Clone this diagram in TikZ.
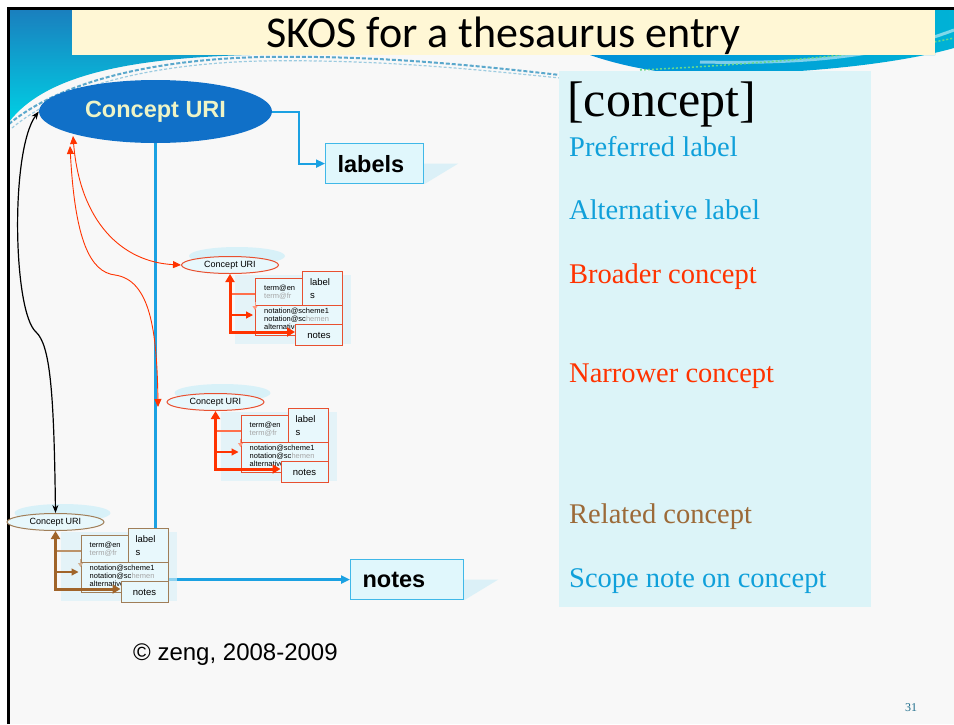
\documentclass[tikz,border=0pt]{standalone}
\usepackage{fontspec}
\setmainfont{Liberation Serif}
\setsansfont{Liberation Sans}
\newfontfamily\titlefont{Carlito}
\usetikzlibrary{arrows.meta,shapes.geometric}

\definecolor{slidebg}{HTML}{F8F8F8}
\definecolor{titlebg}{HTML}{FFF7D5}
\definecolor{swtop}{HTML}{1A7FBE}
\definecolor{swbottom}{HTML}{00D0E4}
\definecolor{swleft}{HTML}{0090D8}
\definecolor{swright}{HTML}{00B2D6}
\definecolor{sparkle}{HTML}{5AA8CC}
\definecolor{panelbg}{HTML}{DCF4F8}
\definecolor{panelblue}{HTML}{10A0DA}
\definecolor{panelred}{HTML}{FF3300}
\definecolor{panelbrown}{HTML}{9C6A38}
\definecolor{conceptblue}{HTML}{1070C8}
\definecolor{uriyellow}{HTML}{EEF4C6}
\definecolor{connblue}{HTML}{1BA1E2}
\definecolor{boxfill}{HTML}{E0F7FC}
\definecolor{boxdraw}{HTML}{40B8E8}
\definecolor{boxshadow}{HTML}{D4EFF7}
\definecolor{redline}{HTML}{FF3300}
\definecolor{redborder}{HTML}{E85030}
\definecolor{brownline}{HTML}{A0642A}
\definecolor{brownborder}{HTML}{A07E58}
\definecolor{clfill}{HTML}{E8F8FC}
\definecolor{clshadow}{HTML}{D8F1F8}
\definecolor{pagenum}{HTML}{1F6E8C}

\tikzset{
  paneltext/.style={anchor=base west, inner sep=0pt, font=\fontsize{28.5}{32}\selectfont},
  bluebox/.style={draw=boxdraw, fill=boxfill, line width=1.2pt, inner ysep=0pt,
    font=\sffamily\bfseries\fontsize{23.5}{28}\selectfont, anchor=north west},
  blueconn/.style={draw=connblue, -{Triangle[length=9pt,width=8pt]}},
  smallconcept/.style={ellipse, fill=clfill, line width=1pt, inner sep=0pt,
    minimum width=97, minimum height=17, font=\sffamily\fontsize{9}{10}\selectfont},
  clbox/.style={fill=clfill, line width=1pt, inner sep=0pt,
    font=\sffamily\fontsize{9.5}{13}\selectfont},
  clterm/.style={anchor=west, inner sep=0pt, font=\sffamily\fontsize{7.5}{8}\selectfont},
  relarrow/.style={line width=0.9pt, {Triangle[length=8pt,width=7pt]}-{Triangle[length=8pt,width=7pt]}},
  thickarrows/.style={line width=3pt, {Triangle[length=8pt,width=9pt]}-{Triangle[length=8pt,width=9pt]}},
}

% One small concept: ellipse, entry box with its term and notation lines,
% the labels and notes boxes, and the coloured arrows joining them.
% #1 name, #2 x, #3 y, #4 arrow colour, #5 border colour
\newcommand{\conceptcluster}[5]{%
\begin{scope}[shift={(#2,#3)}]
  \fill[clshadow] (7,-9) ellipse [x radius=48, y radius=9];
  \fill[clshadow, opacity=.6] (5,10) rectangle (121,79);
  \node[smallconcept, draw=#5] (#1) at (0,0) {Concept URI};
  \node[clbox, draw=#5, minimum width=87, minimum height=57, anchor=north west] (#1-entry) at (25,13) {};
  \draw[#5, line width=1pt] (25,40) -- (112,40);
  \node[clterm] (#1-en) at (34,23) {term@en};
  \node[clterm, text=gray!70] (#1-fr) at (34,31) {term@fr};
  \node[clterm] (#1-n1) at (34,46) {notation@scheme1};
  \node[clterm] (#1-nn) at (34,54) {notation@sc\textcolor{gray!70}{hemen}};
  \node[clterm] (#1-alt) at (34,62) {alternative};
  \node[clbox, draw=#5, anchor=north west, minimum width=40, minimum height=34,
        text width=25, inner xsep=7.5pt, align=left] (#1-lab) at (72,6) {label\\s};
  \node[clbox, draw=#5, anchor=north west, minimum width=47, minimum height=21] (#1-notes) at (65,59) {notes};
  \coordinate (#1-bend) at (0,67);
  \coordinate (#1-mid) at (0,29);
  \coordinate (#1-low) at (0,50);
  \draw[#4!70, line width=1.2pt] (#1-mid) -- (#1-mid -| #1-entry.west);
  \draw[#4, line width=1.2pt, -{Triangle[length=7pt,width=7pt]}] (#1-low) -- ([xshift=-2pt]#1-low -| #1-entry.west);
  \draw[#4!50, line width=1pt, -{Triangle[length=4pt,width=5pt]}] (25,37) -- (25,45);
  \draw[#4, thickarrows] (#1.south) -- (#1-bend) -- (#1-bend -| #1-notes.west);
\end{scope}}

\begin{document}
\begin{tikzpicture}[x=1pt, y=-1pt]
\useasboundingbox (0,0) rectangle (954,724);
\fill[white] (0,0) rectangle (954,724);
\fill[slidebg] (9,9) rectangle (954,724);

% slide decoration: swooshes and sparkle lines
\shade[top color=swtop, bottom color=swbottom]
  (9,9) -- (72,9) -- (72,55) -- (250,55) .. controls (130,58) and (45,75) .. (9,122) -- cycle;
\shade[left color=swleft, right color=swright]
  (590,55) -- (935,55) -- (935,9) -- (954,9) -- (954,48)
  .. controls (890,66) and (780,76) .. (680,74) .. controls (640,70) and (610,62) .. (590,55) -- cycle;
\draw[white, opacity=.5, line width=3pt] (700,62) .. controls (800,64) and (880,58) .. (954,30);
\draw[sparkle, line width=2pt, dash pattern=on 4pt off 2pt]
  (9,124) .. controls (60,82) and (150,60) .. (260,57) .. controls (380,55) and (480,66) .. (560,75);
\draw[sparkle!60, line width=1.2pt, dash pattern=on 3pt off 2pt]
  (12,128) .. controls (62,86) and (150,64) .. (260,61) .. controls (380,59) and (480,70) .. (560,78);
\draw[green!50!teal!60, line width=1.5pt, dash pattern=on 2pt off 2pt]
  (640,70) .. controls (760,64) and (880,54) .. (954,38);

% title bar
\fill[titlebg] (72,9) rectangle (935,55);
\node[font=\titlefont\fontsize{44}{50}\selectfont, anchor=base, inner sep=0pt] (title) at (503.5,47) {SKOS for a thesaurus entry};

% slide frame
\draw[line width=3pt] (8.5,724) -- (8.5,8.5) -- (954,8.5);

% legend panel
\fill[panelbg] (559,71) rectangle (871,607);
\node[anchor=base west, inner sep=0pt, font=\fontsize{50}{56}\selectfont] (concept) at (567,116) {[concept]};
\node[paneltext, text=panelblue] (pref) at (569,156) {Preferred label};
\node[paneltext, text=panelblue] (alt) at (569,219) {Alternative label};
\node[paneltext, text=panelred] (broader) at (569,283) {Broader concept};
\node[paneltext, text=panelred] (narrower) at (569,382) {Narrower concept};
\node[paneltext, text=panelbrown] (related) at (569,523) {Related concept};
\node[paneltext, text=panelblue] (scope) at (569,587) {Scope note on concept};

% main concept with its labels and notes
\node[ellipse, fill=conceptblue, minimum width=233, minimum height=63, inner sep=0pt,
      font=\sffamily\bfseries\fontsize{23.5}{28}\selectfont, text=uriyellow] (top) at (155.5,111.5) {Concept URI};
\node[bluebox, minimum width=98, minimum height=40, text width=74, inner xsep=12pt, align=left] (labels) at (325,143) {labels};
\node[bluebox, minimum width=113, minimum height=40, text width=89, inner xsep=12pt, align=left] (notes) at (350,559) {notes};
\fill[boxshadow, opacity=.8] (labels.east) -- ++(34,0) -- (labels.south east) -- cycle;
\fill[boxshadow, opacity=.8] (notes.east) -- ++(34,0) -- (notes.south east) -- cycle;
\draw[blueconn, line width=2pt] (top.east) -- ++(27,0) |- (labels.west);
\draw[blueconn, line width=3pt] (top.south) -- (top.south |- notes.west) -- (notes.west);

% broader, narrower and related concepts
\conceptcluster{broad}{230}{265}{redline}{redborder}
\conceptcluster{narrow}{215.5}{402}{redline}{redborder}
\conceptcluster{rel}{55.5}{522}{brownline}{brownborder}

% relations between the main concept and the others
\coordinate (brA) at (73,136);
\coordinate (brB) at (70,146);
\coordinate (narrowIn) at (158,407);
\draw[redline, relarrow] (brA) .. controls (80,222) and (122,262) .. (broad.west);
\draw[redline, relarrow] (brB) .. controls (75,240) and (90,272) .. (115,275)
  .. controls (150,280) and (157,330) .. (narrowIn);
\draw[black, line width=1.2pt, {Stealth[length=8pt,width=6pt]}-{Stealth[length=8pt,width=6pt]}]
  (rel.north) .. controls (54,390) and (50,345) .. (36,332) .. controls (13,312) and (10,150) .. (top.west);

% footer
\node[anchor=base west, inner sep=0pt, font=\sffamily\fontsize{24}{28}\selectfont] (copy) at (133,660) {© zeng, 2008-2009};
\node[anchor=base west, inner sep=0pt, font=\fontsize{12}{14}\selectfont, text=pagenum] (page) at (905,711) {31};
\end{tikzpicture}
\end{document}
